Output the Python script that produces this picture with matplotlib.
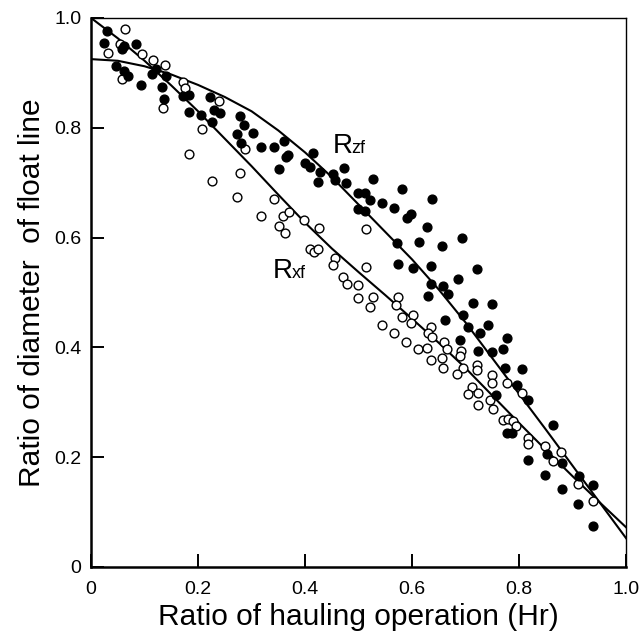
import matplotlib
matplotlib.use("Agg")
import matplotlib.pyplot as plt

plt.rcParams['font.family'] = ['Liberation Sans', 'DejaVu Sans']

# fitted curves
curve_x = [0.0, 0.05, 0.1, 0.15, 0.2, 0.25, 0.3, 0.35, 0.4, 0.45, 0.5,
           0.55, 0.6, 0.65, 0.7, 0.75, 0.8, 0.85, 0.9, 0.95, 1.0]
rzf_curve = [0.925, 0.922, 0.912, 0.897, 0.878, 0.856, 0.83, 0.795, 0.755, 0.71, 0.66,
             0.61, 0.56, 0.505, 0.445, 0.38, 0.315, 0.25, 0.184, 0.118, 0.052]
rxf_curve = [1.0, 0.963, 0.922, 0.877, 0.83, 0.78, 0.73, 0.678, 0.627, 0.58, 0.537,
             0.495, 0.452, 0.408, 0.362, 0.312, 0.262, 0.213, 0.165, 0.118, 0.072]

# measured Rzf (filled dots)
rzf_x = [0.030, 0.024, 0.058, 0.062, 0.084, 0.047, 0.062, 0.069, 0.093, 0.114,
         0.121, 0.140, 0.133, 0.136, 0.172, 0.183, 0.183, 0.206, 0.222, 0.226,
         0.230, 0.241, 0.279, 0.286, 0.273, 0.303, 0.280, 0.318, 0.342, 0.361,
         0.364, 0.368, 0.351, 0.415, 0.400, 0.409, 0.424, 0.428, 0.452, 0.456,
         0.473, 0.477, 0.499, 0.512, 0.521, 0.527, 0.544, 0.499, 0.512, 0.566,
         0.581, 0.591, 0.598, 0.628, 0.637, 0.572, 0.613, 0.656, 0.693, 0.574,
         0.602, 0.636, 0.721, 0.686, 0.636, 0.658, 0.667, 0.630, 0.714, 0.750,
         0.695, 0.662, 0.705, 0.742, 0.727, 0.778, 0.690, 0.723, 0.750, 0.770,
         0.774, 0.806, 0.796, 0.757, 0.817, 0.864, 0.778, 0.787, 0.852, 0.817,
         0.880, 0.849, 0.880, 0.912, 0.938, 0.910, 0.938]
rzf_y = [0.976, 0.954, 0.944, 0.949, 0.953, 0.913, 0.903, 0.894, 0.878, 0.898,
         0.907, 0.894, 0.874, 0.852, 0.858, 0.860, 0.829, 0.823, 0.856, 0.811,
         0.832, 0.827, 0.821, 0.805, 0.789, 0.791, 0.772, 0.765, 0.765, 0.776,
         0.747, 0.750, 0.725, 0.754, 0.736, 0.729, 0.701, 0.719, 0.716, 0.705,
         0.727, 0.699, 0.681, 0.681, 0.668, 0.707, 0.663, 0.652, 0.648, 0.654,
         0.689, 0.636, 0.643, 0.619, 0.670, 0.590, 0.592, 0.585, 0.599, 0.552,
         0.545, 0.548, 0.543, 0.525, 0.515, 0.512, 0.497, 0.494, 0.481, 0.479,
         0.459, 0.450, 0.437, 0.441, 0.426, 0.417, 0.413, 0.393, 0.392, 0.397,
         0.362, 0.361, 0.332, 0.313, 0.304, 0.259, 0.244, 0.244, 0.206, 0.195,
         0.189, 0.168, 0.142, 0.166, 0.149, 0.115, 0.075]

# measured Rxf (open circles)
rxf_x = [0.064, 0.032, 0.054, 0.095, 0.116, 0.138, 0.172, 0.176, 0.058, 0.135,
         0.207, 0.183, 0.226, 0.239, 0.288, 0.279, 0.273, 0.342, 0.318, 0.359,
         0.370, 0.351, 0.363, 0.398, 0.426, 0.409, 0.417, 0.424, 0.456, 0.452,
         0.471, 0.479, 0.514, 0.514, 0.499, 0.499, 0.527, 0.521, 0.574, 0.570,
         0.544, 0.581, 0.602, 0.598, 0.566, 0.589, 0.611, 0.628, 0.636, 0.630,
         0.637, 0.660, 0.665, 0.636, 0.656, 0.658, 0.692, 0.690, 0.695, 0.684,
         0.721, 0.721, 0.712, 0.705, 0.723, 0.723, 0.750, 0.750, 0.778, 0.806,
         0.746, 0.751, 0.770, 0.779, 0.789, 0.794, 0.817, 0.817, 0.849, 0.864,
         0.879, 0.910, 0.938]
rxf_y = [0.980, 0.936, 0.953, 0.934, 0.923, 0.914, 0.883, 0.872, 0.889, 0.836,
         0.798, 0.752, 0.703, 0.849, 0.761, 0.718, 0.674, 0.670, 0.639, 0.639,
         0.647, 0.621, 0.608, 0.632, 0.617, 0.579, 0.574, 0.579, 0.563, 0.550,
         0.528, 0.515, 0.616, 0.546, 0.514, 0.490, 0.492, 0.474, 0.492, 0.477,
         0.441, 0.455, 0.459, 0.444, 0.426, 0.410, 0.397, 0.399, 0.437, 0.426,
         0.419, 0.410, 0.397, 0.377, 0.381, 0.362, 0.393, 0.384, 0.362, 0.352,
         0.368, 0.359, 0.328, 0.315, 0.317, 0.295, 0.350, 0.335, 0.335, 0.317,
         0.304, 0.288, 0.268, 0.270, 0.266, 0.257, 0.235, 0.224, 0.220, 0.193,
         0.209, 0.151, 0.120]

ticks = [0, 0.2, 0.4, 0.6, 0.8, 1.0]
tick_labels = ['0', '0.2', '0.4', '0.6', '0.8', '1.0']

fig = plt.figure(figsize=(6.41, 6.34), dpi=100)
ax = fig.add_axes([0.142, 0.1057, 0.835, 0.866])

ax.plot(curve_x, rzf_curve, color='black', lw=1.5, zorder=2)
ax.plot(curve_x, rxf_curve, color='black', lw=1.5, zorder=2)

ax.scatter(rxf_x, rxf_y, s=40, facecolors='white', edgecolors='black',
           linewidths=1.0, zorder=3)
ax.scatter(rzf_x, rzf_y, s=40, color='black', zorder=4)

# curve labels: R with a small suffix on the same baseline
ax.text(0.452, 0.754, 'R', fontsize=20, ha='left', va='baseline')
ax.text(0.487, 0.754, 'zf', fontsize=13, ha='left', va='baseline')
ax.text(0.340, 0.526, 'R', fontsize=20, ha='left', va='baseline')
ax.text(0.375, 0.526, 'xf', fontsize=13, ha='left', va='baseline')

ax.set_xlim(0, 1.0)
ax.set_ylim(0, 1.0)
ax.set_xticks(ticks)
ax.set_xticklabels(tick_labels)
ax.set_yticks(ticks)
ax.set_yticklabels(tick_labels)
ax.tick_params(direction='in', length=9.5, width=1.4, labelsize=14)
ax.tick_params(axis='x', pad=10)
ax.tick_params(axis='y', pad=7)

for side in ['left', 'bottom']:
    ax.spines[side].set_linewidth(1.8)
for side in ['top', 'right']:
    ax.spines[side].set_linewidth(1.0)

ax.set_xlabel('Ratio of hauling operation (Hr)', fontsize=21.5, labelpad=4)
ax.set_ylabel('Ratio of diameter  of float line', fontsize=21.5, labelpad=6)

plt.savefig('out.png', dpi=100)
plt.close()
